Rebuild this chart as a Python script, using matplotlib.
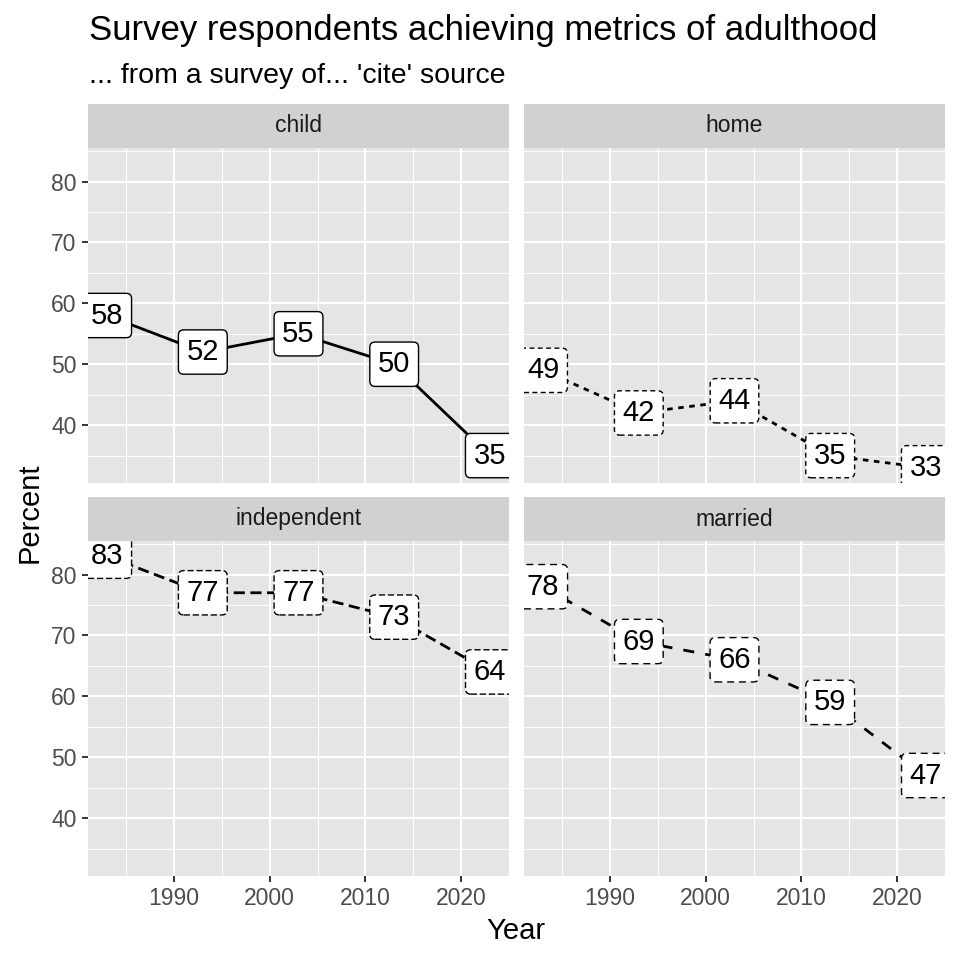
import matplotlib.pyplot as plt
from matplotlib.ticker import MultipleLocator

plt.rcParams['font.family'] = ['Liberation Sans', 'DejaVu Sans']

# data
years = [1983, 1993, 2003, 2013, 2023]
metrics = ['child', 'home', 'independent', 'married']
child = [58, 52, 55, 50, 35]
home = [49, 42, 44, 35, 33]
independent = [83, 77, 77, 73, 64]
married = [78, 69, 66, 59, 47]
values = [child, home, independent, married]

# ggplot default linetype palette: solid, 22, 42, 44
line_styles = ['-', (0, (2, 2)), (0, (4, 2)), (0, (4, 4))]
box_styles = ['-', (0, (3.5, 2.5)), (0, (4.5, 2)), (0, (5, 3.5))]

W = H = 960
fig = plt.figure(figsize=(9.6, 9.6), dpi=100)


def px_axes(x0, y0, x1, y1):
    return fig.add_axes([x0 / W, 1 - y1 / H, (x1 - x0) / W, (y1 - y0) / H])


# default ggplot expansion of 5%
all_vals = child + home + independent + married
ymin, ymax = min(all_vals), max(all_vals)
yr = ymax - ymin
xr = max(years) - min(years)
xlim = (min(years) - 0.05 * xr, max(years) + 0.05 * xr)
ylim = (ymin - 0.05 * yr, ymax + 0.05 * yr)

cols = [(88, 509), (524, 945)]
rows = [(148, 483), (541, 876)]
strip_h = 44

for i, name in enumerate(metrics):
    r, c = divmod(i, 2)
    x0, x1 = cols[c]
    y0, y1 = rows[r]
    ax = px_axes(x0, y0, x1, y1)
    sax = px_axes(x0, y0 - strip_h, x1, y0)

    ax.set_facecolor('#E5E5E5')
    for s in ax.spines.values():
        s.set_visible(False)
    ax.set_xlim(*xlim)
    ax.set_ylim(*ylim)
    ax.xaxis.set_major_locator(MultipleLocator(10))
    ax.xaxis.set_minor_locator(MultipleLocator(5))
    ax.yaxis.set_major_locator(MultipleLocator(10))
    ax.yaxis.set_minor_locator(MultipleLocator(5))
    ax.grid(which='major', color='white', linewidth=1.5)
    ax.grid(which='minor', color='white', linewidth=0.8)
    ax.set_axisbelow(True)
    ax.tick_params(which='minor', length=0)
    ax.tick_params(which='major', length=4.6, width=1.4, color='#333333',
                   labelsize=16.5, labelcolor='#4D4D4D', pad=3.5)
    if r == 0:
        ax.tick_params(axis='x', which='major', length=0, labelbottom=False)
    if c == 1:
        ax.tick_params(axis='y', which='major', length=0, labelleft=False)

    ax.plot(years, values[i], color='black', linewidth=2.0,
            linestyle=line_styles[i], zorder=2)
    for yv, v in zip(years, values[i]):
        ax.text(yv, v, str(v), ha='center', va='center', fontsize=21,
                color='black', zorder=3, clip_on=True,
                bbox=dict(boxstyle='round,pad=0.28,rounding_size=0.18',
                          facecolor='white', edgecolor='black',
                          linewidth=1.0, linestyle=box_styles[i]))

    sax.set_facecolor('#D1D1D1')
    sax.set_xticks([])
    sax.set_yticks([])
    for s in sax.spines.values():
        s.set_visible(False)
    sax.text(0.5, 0.5, name, ha='center', va='center', fontsize=16.5,
             color='#1A1A1A', transform=sax.transAxes)

fig.text(89 / W, 1 - 40 / H, 'Survey respondents achieving metrics of adulthood',
         fontsize=25, ha='left', va='baseline')
fig.text(89 / W, 1 - 83 / H, "... from a survey of... 'cite' source",
         fontsize=20.5, ha='left', va='baseline')
fig.text(516 / W, 1 - 931 / H, 'Year', fontsize=21, ha='center', va='center')
fig.text(30 / W, 1 - 513 / H, 'Percent', fontsize=21, ha='center', va='center',
         rotation=90)

fig.savefig('out.png', dpi=100, facecolor='white')
